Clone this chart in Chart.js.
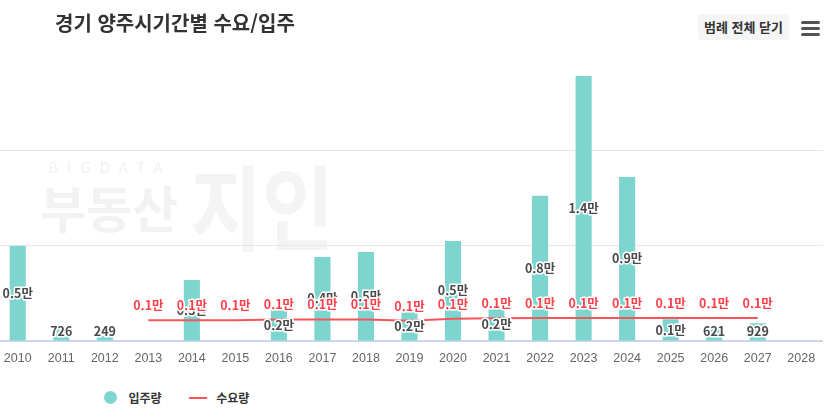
<!DOCTYPE html>
<html lang="ko">

<head>
  <meta charset="utf-8">
  <title>경기 양주시기간별 수요/입주</title>
  <style>
    body { margin: 0; width: 833px; height: 409px; overflow: hidden; background: #fff; position: relative; font-family: "Noto Sans CJK KR", sans-serif; }
    #title { position: absolute; left: 55px; top: 8px; font-size: 20px; font-weight: 700; color: #333; }
    #btn { position: absolute; left: 698px; top: 14px; width: 91px; height: 26px; background: #f5f5f5; border-radius: 3px; font-size: 13px; font-weight: 700; color: #333; text-align: center; line-height: 26px; }
    #menu { position: absolute; left: 801px; top: 21px; width: 19px; }
    #menu div { height: 3px; background: #555; border-radius: 2px; margin-bottom: 3px; }
    .wm { position: absolute; color: #f2f2f2; font-weight: 700; white-space: nowrap; }
    #wrap { position: absolute; left: -4px; top: 0; width: 827px; height: 370px; }
    #legend { position: absolute; top: 387px; left: 104px; font-size: 12px; font-weight: 700; color: #333; }
    #legend span { display: inline-block; vertical-align: middle; }
  </style>
</head>

<body>
  <div class="wm" style="left:48px;top:156px;font-size:15px;font-weight:400;letter-spacing:9px;">BIGDATA</div>
  <div class="wm" style="left:40px;top:170px;font-size:50px;">부동산</div>
  <div class="wm" style="left:190px;top:136px;font-size:92px;color:#f4f4f4;transform:scaleX(0.85);transform-origin:left;">지인</div>
  <div id="wrap"><canvas id="myChart"></canvas></div>
  <div id="title">경기 양주시기간별 수요/입주</div>
  <div id="btn">범례 전체 닫기</div>
  <div id="menu"><div></div><div></div><div></div></div>
  <div id="legend">
    <span style="width:13px;height:13px;border-radius:50%;background:#7dd5cf;"></span>
    <span style="margin-left:8px;">입주량</span>
    <span style="margin-left:24px;width:18px;height:2px;background:#f9545a;"></span>
    <span style="margin-left:6px;">수요량</span>
  </div>
  <script src="https://cdn.jsdelivr.net/npm/chart.js@4/dist/chart.umd.min.js"></script>
  <script>
    var years = ['2010', '2011', '2012', '2013', '2014', '2015', '2016', '2017', '2018', '2019',
      '2020', '2021', '2022', '2023', '2024', '2025', '2026', '2027', '2028'];
    var moveIn = [4970, 726, 249, null, 3200, null, 1620, 4400, 4660, 1530,
      5240, 1680, 7600, 13870, 8590, 1140, 621, 929, null];
    var demand = [null, null, null, 1090, 1090, 1090, 1130, 1120, 1120, 1060,
      1160, 1190, 1210, 1210, 1210, 1210, 1210, 1210, null];
    var gridTicks = [5000, 10000];

    function fmt(v) {
      if (v >= 1000) return (v / 10000).toFixed(1) + '만';
      return String(v);
    }

    function drawText(ctx, txt, x, y, color) {
      ctx.lineWidth = 3;
      ctx.lineJoin = 'round';
      ctx.strokeStyle = '#fff';
      ctx.strokeText(txt, x, y);
      ctx.fillStyle = color;
      ctx.fillText(txt, x, y);
    }

    // labels like the datalabels plugin, without loading it
    var labelPlugin = {
      id: 'labels',
      afterDatasetsDraw: function (chart) {
        var ctx = chart.ctx;
        var area = chart.chartArea;
        ctx.save();
        ctx.font = 'bold 12.5px "Noto Sans CJK KR"';
        ctx.textAlign = 'center';
        ctx.textBaseline = 'middle';
        chart.getDatasetMeta(0).data.forEach(function (bar, i) {
          if (moveIn[i] == null) return;
          var y = Math.min((bar.y + bar.base) / 2, area.bottom - 10);
          drawText(ctx, fmt(moveIn[i]), bar.x, y, '#4a4a4a');
        });
        chart.getDatasetMeta(1).data.forEach(function (pt, i) {
          if (demand[i] == null) return;
          drawText(ctx, fmt(demand[i]), pt.x, pt.y - 15, '#ff3f4a');
        });
        ctx.restore();
      }
    };

    var ctx = document.getElementById('myChart').getContext('2d');
    var chart = new Chart(ctx, {
      data: {
        labels: years,
        datasets: [{
          type: 'bar',
          label: '입주량',
          data: moveIn,
          backgroundColor: '#7dd5cf',
          categoryPercentage: 1,
          barPercentage: 0.37,
          order: 2
        }, {
          type: 'line',
          label: '수요량',
          data: demand,
          borderColor: '#f9545a',
          borderWidth: 2,
          pointRadius: 0,
          tension: 0,
          order: 1
        }]
      },
      options: {
        responsive: true,
        maintainAspectRatio: false,
        animation: false,
        layout: { padding: { top: 54.5, left: 0, right: 0, bottom: 0 } },
        plugins: {
          legend: { display: false },
          tooltip: { enabled: false }
        },
        scales: {
          x: {
            grid: { display: false },
            border: { color: '#ccd6eb', width: 2 },
            ticks: { color: '#666', font: { family: 'Liberation Sans', size: 12.5 }, padding: 2 },
            afterFit: function (s) { s.height = 29; }
          },
          y: {
            min: 0,
            max: 15000,
            ticks: { display: false, stepSize: 5000 },
            border: { display: false },
            grid: {
              drawTicks: false,
              color: function (c) { return gridTicks.indexOf(c.tick.value) >= 0 ? '#e6e6e6' : 'rgba(0,0,0,0)'; }
            },
            afterFit: function (s) { s.width = 0; }
          }
        }
      },
      plugins: [labelPlugin]
    });
  </script>
</body>

</html>
